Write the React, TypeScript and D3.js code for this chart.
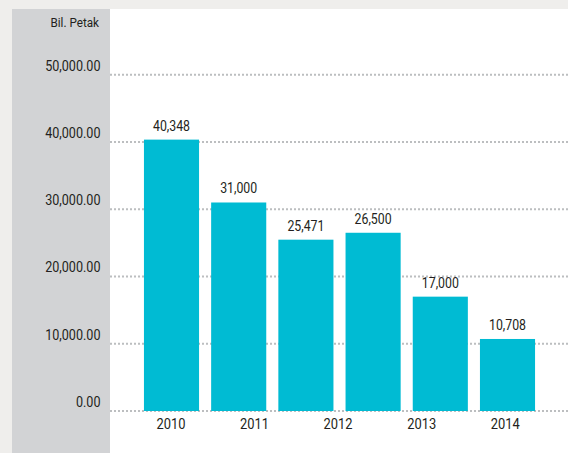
import React from "react";
import * as d3 from "d3";

const barKeys = ["b1", "b2", "b3", "b4", "b5", "b6"];
const values = [40348, 31000, 25471, 26500, 17000, 10708];
const yearLabels = ["2010", "2011", "2012", "2013", "2014"];
const tickValues = [0, 10000, 20000, 30000, 40000, 50000];
const axisTitle = "Bil. Petak";

const W = 568;
const H = 453;
const FONT = "Roboto, 'DejaVu Sans Condensed', sans-serif";
const INK = "#231f20";

function CText({ x, y, anchor, size, sx, children }: { x: number; y: number; anchor: string; size: number; sx: number; children: React.ReactNode }) {
  return (
    <text transform={`translate(${x},${y}) scale(${sx},1)`} textAnchor={anchor} fontFamily={FONT} fontSize={size} fill={INK}>
      {children}
    </text>
  );
}

export default function App() {
  const x = d3.scaleBand<string>().domain(barKeys).range([137.9, 541.1]).paddingInner(0.18).paddingOuter(0.09);
  const xl = d3.scaleBand<string>().domain(yearLabels).range([129.2, 547.0]).padding(0);
  const y = d3.scaleLinear().domain([0, 50000]).range([411, 74.7]);
  const fmtVal = d3.format(",");
  const fmtTick = d3.format(",.2f");

  return (
    <svg width={W} height={H} style={{ position: "absolute", left: 0, top: 0, display: "block" }}>
      <rect x={0} y={0} width={W} height={H} fill="#efeeec" />
      <rect x={12} y={9} width={98} height={H - 9} fill="#d2d3d5" />
      <rect x={110} y={9} width={W - 110} height={H - 9} fill="#ffffff" />
      {tickValues.map((t) => (
        <g key={t}>
          <line x1={110} x2={W} y1={y(t)} y2={y(t)} stroke="#bcbec0" strokeWidth={2} strokeDasharray="2,2" />
          <CText x={100.5} y={y(t) - 4} anchor="end" size={15} sx={0.84}>
            {fmtTick(t)}
          </CText>
        </g>
      ))}
      <CText x={99} y={27} anchor="end" size={13} sx={0.9}>
        {axisTitle}
      </CText>
      {values.map((v, i) => (
        <g key={i}>
          <rect x={x(barKeys[i])} y={y(v)} width={x.bandwidth()} height={y(0) - y(v)} fill="#00bbd3" />
          <CText x={(x(barKeys[i]) as number) + x.bandwidth() / 2} y={y(v) - 9} anchor="middle" size={14.5} sx={0.85}>
            {fmtVal(v)}
          </CText>
        </g>
      ))}
      {yearLabels.map((lab) => (
        <CText key={lab} x={(xl(lab) as number) + xl.bandwidth() / 2} y={429} anchor="middle" size={15} sx={0.86}>
          {lab}
        </CText>
      ))}
    </svg>
  );
}
